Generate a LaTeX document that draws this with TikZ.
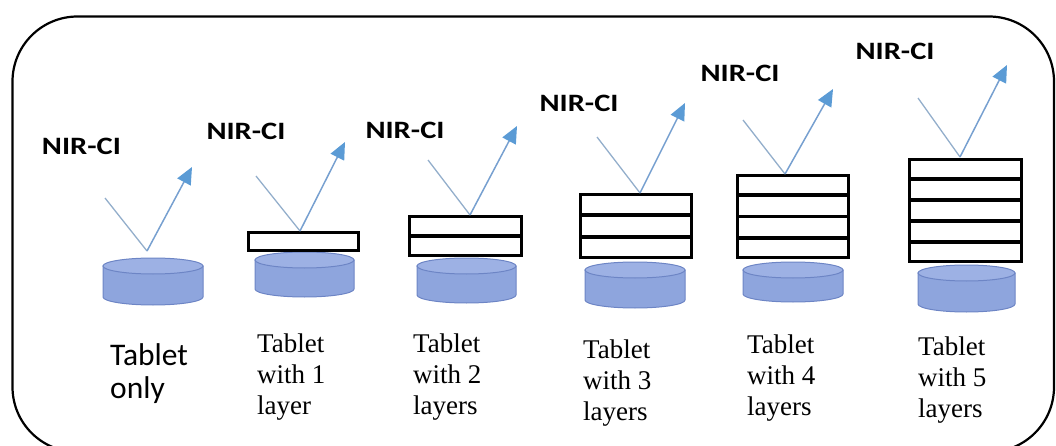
\documentclass[tikz,border=0pt]{standalone}
\usepackage{fontspec}
\setmainfont{Liberation Serif}
\newfontfamily\calfont{Carlito}
\newfontfamily\nirfont{Carlito}[FakeStretch=1.22]
\usetikzlibrary{arrows.meta,calc}

\definecolor{tabfill}{HTML}{8EA5DD}
\definecolor{tabtop}{HTML}{9DB1E4}
\definecolor{tabedge}{HTML}{6D85C5}
\definecolor{raycol}{HTML}{77A0D0}
\definecolor{raygray}{HTML}{93AECB}
\definecolor{tipcol}{HTML}{5B9BD5}

\begin{document}
\begin{tikzpicture}[x=1pt,y=-1pt,
  frame/.style={draw=black, line width=2.2pt, rounded corners=65pt},
  cylside/.style={fill=tabfill, draw=tabedge, line width=1pt},
  cyltop/.style={fill=tabtop, draw=tabedge, line width=1pt},
  stackbox/.style={draw=black, fill=white, line width=3pt, inner sep=0pt},
  layerline/.style={draw=black, line width=3.5pt},
  incoming/.style={draw=raygray, line width=1.3pt},
  outgoing/.style={draw=raycol, line width=1.5pt,
    -{Triangle[length=17pt,width=15pt,color=tipcol,fill=tipcol]}},
  nirlabel/.style={font=\nirfont\bfseries\fontsize{25}{30}\selectfont, inner sep=0pt},
  % captions are anchored at the baseline of their last line
  serifcap/.style={font=\fontsize{27}{31}\selectfont, align=left, anchor=base west, inner sep=0pt},
  sanscap/.style={font=\calfont\fontsize{31.5}{33.5}\selectfont, align=left, anchor=base west, inner sep=0pt}
]
\useasboundingbox (0,0) rectangle (1056,446);

% outer rounded frame, running past the lower page edge
\begin{scope}
  \clip (0,0) rectangle (1056,446);
  \draw[frame] (12.5,16.5) rectangle (1054,452);
\end{scope}

% tablets: left, right, top, bottom
\foreach \xl/\xr/\yt/\yb in {103/203/258/305, 255/354/252/297, 417/516/258/303,
                             585/685/262/308, 743/843/262/302, 918/1015/265/312}{
  \pgfmathsetmacro\rx{(\xr-\xl)/2}
  \pgfmathsetmacro\cx{(\xr+\xl)/2}
  \path[cylside] (\xl,\yt+8) -- (\xl,\yb-8)
     arc[start angle=180, end angle=360, x radius=\rx pt, y radius=8pt]
     -- (\xr,\yt+8) -- cycle;
  \path[cyltop] (\cx,\yt+8) ellipse[x radius=\rx pt, y radius=8pt];
}

% coating stacks
\node[stackbox, minimum width=110pt, minimum height=18pt]  (s1) at (303.5,241.5) {};
\node[stackbox, minimum width=112pt, minimum height=39pt]  (s2) at (465.5,236)   {};
\node[stackbox, minimum width=111pt, minimum height=63pt]  (s3) at (636,226)     {};
\node[stackbox, minimum width=111pt, minimum height=82pt]  (s4) at (793,216.5)   {};
\node[stackbox, minimum width=112pt, minimum height=102pt] (s5) at (965.5,210.5) {};

\foreach \s/\n in {s2/2, s3/3, s4/4, s5/5}{
  \pgfmathtruncatemacro\last{\n-1}
  \foreach \k in {1,...,\last}{
    \draw[layerline] ($(\s.north west)!\k/\n!(\s.south west)$)
                  -- ($(\s.north east)!\k/\n!(\s.south east)$);
  }
}

% light paths: source, reflection point, detector direction
\coordinate (a0) at (105,198);  \coordinate (h0) at (147,251);  \coordinate (d0) at (192,167);
\coordinate (a1) at (256,176);  \coordinate (h1) at (300,231);  \coordinate (d1) at (345,142);
\coordinate (a2) at (428,160);  \coordinate (h2) at (470,215);  \coordinate (d2) at (517,126);
\coordinate (a3) at (597,137);  \coordinate (h3) at (640,193);  \coordinate (d3) at (685,103);
\coordinate (a4) at (743,120);  \coordinate (h4) at (785,174);  \coordinate (d4) at (833,89);
\coordinate (a5) at (918,98);   \coordinate (h5) at (960,157);  \coordinate (d5) at (1007,65);

\foreach \i in {0,...,5}{
  \draw[incoming] (a\i) -- (h\i);
  \draw[outgoing] (h\i) -- (d\i);
}

% method labels
\node[nirlabel] (n0) at (81.5,146) {NIR-CI};
\node[nirlabel] (n1) at (246,131)  {NIR-CI};
\node[nirlabel] (n2) at (405,130)  {NIR-CI};
\node[nirlabel] (n3) at (579,103)  {NIR-CI};
\node[nirlabel] (n4) at (740,73)   {NIR-CI};
\node[nirlabel] (n5) at (895,51)   {NIR-CI};

% captions
\node[sanscap]  (c0) at (110,398.5) {Tablet\\only};
\node[serifcap] (c1) at (257,414) {Tablet\\with 1\\layer};
\node[serifcap] (c2) at (413,414) {Tablet\\with 2\\layers};
\node[serifcap] (c3) at (583,420) {Tablet\\with 3\\layers};
\node[serifcap] (c4) at (747,415) {Tablet\\with 4\\layers};
\node[serifcap] (c5) at (918,417) {Tablet\\with 5\\layers};
\end{tikzpicture}
\end{document}
